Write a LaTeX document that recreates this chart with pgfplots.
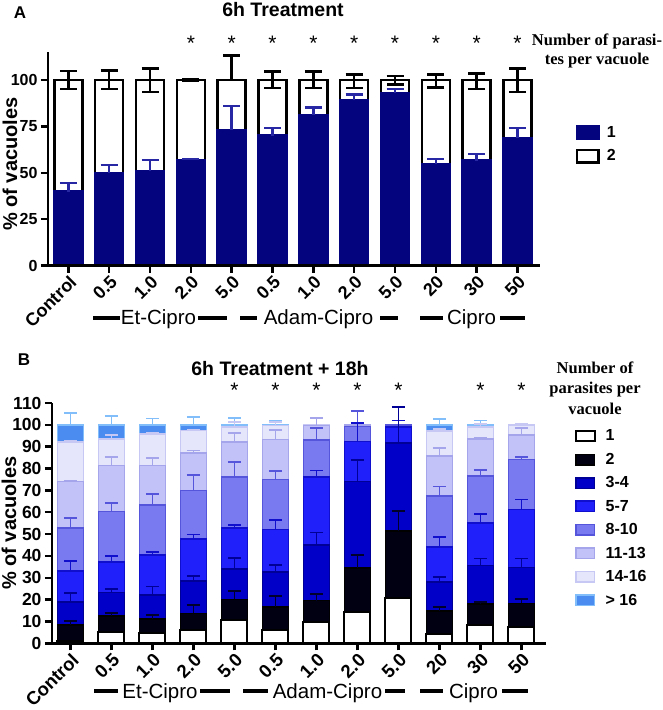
\documentclass[border=0pt]{standalone}
\usepackage{pgfplots}
\pgfplotsset{compat=1.18}
\usepackage{fontspec}
\setmainfont{Liberation Sans}
\newfontfamily\tnr{Liberation Serif}

\definecolor{navyA}{RGB}{4,4,126}
\definecolor{navyErr}{RGB}{40,40,165}
\definecolor{cTwo}{RGB}{0,0,18}
\definecolor{cTwoE}{RGB}{0,0,45}
\definecolor{cThree}{RGB}{0,0,200}
\definecolor{cThreeD}{RGB}{0,0,150}
\definecolor{cFive}{RGB}{32,32,250}
\definecolor{cFiveD}{RGB}{15,15,205}
\definecolor{cEight}{RGB}{122,122,240}
\definecolor{cEightD}{RGB}{85,85,220}
\definecolor{cEleven}{RGB}{194,194,248}
\definecolor{cElevenD}{RGB}{165,165,235}
\definecolor{cFourteen}{RGB}{229,229,251}
\definecolor{cFourteenD}{RGB}{200,200,245}
\definecolor{cSixteen}{RGB}{75,140,240}
\definecolor{cSixteenD}{RGB}{130,190,250}

\pgfplotsset{
  ov/.style={bar shift=0pt},
  boxlegA/.style={legend image code/.code={\draw[##1] (0pt,-6.25pt) rectangle (21.5pt,6.25pt);}},
  boxlegB/.style={legend image code/.code={\draw[##1] (0pt,-5.25pt) rectangle (18.5pt,5.25pt);}},
  errA/.style n args={2}{/pgfplots/error bars/y dir=#1, /pgfplots/error bars/y explicit,
    /pgfplots/error bars/error bar style={line width=2.5pt, #2},
    /pgfplots/error bars/error mark options={rotate=90, line width=2.5pt, mark size=8.5pt, #2}},
  errB/.style={/pgfplots/error bars/y dir=plus, /pgfplots/error bars/y explicit,
    /pgfplots/error bars/error bar style={line width=1.8pt, #1},
    /pgfplots/error bars/error mark options={rotate=90, line width=1.8pt, mark size=6.5pt, #1}},
  segB/.style n args={2}{fill=#1, draw=#2, line width=1.5pt, ov, boxlegB},
}

\begin{document}
\begin{tikzpicture}
\useasboundingbox (0pt,0pt) rectangle (662pt,710pt);

%% Panel A
\begin{axis}[
  at={(48pt,444.3pt)}, anchor=south west, scale only axis,
  width=492pt, height=213.7pt,
  xmin=-0.5, xmax=11.55, ymin=0, ymax=115,
  axis x line*=bottom, axis y line*=left,
  axis line style={line width=2.5pt},
  axis on top, clip=false,
  ybar, bar width=28pt,
  xtick={0,...,11},
  xticklabels={\mbox{Control},\mbox{0.5},\mbox{1.0},\mbox{2.0},\mbox{5.0},\mbox{0.5},\mbox{1.0},\mbox{2.0},\mbox{5.0},\mbox{20},\mbox{30},\mbox{50}},
  ytick={0,25,50,75,100},
  yticklabels={\mbox{0},\mbox{25},\mbox{50},\mbox{75},\mbox{100}},
  tick style={line width=2.5pt, black}, major tick length=7pt, tick align=outside,
  yticklabel style={font=\bfseries\fontsize{16}{19}\selectfont},
  xticklabel style={font=\bfseries\fontsize{18}{21}\selectfont, rotate=45, anchor=north east, inner sep=1pt},
  ylabel={\% of vacuoles},
  every axis y label/.style={at={(axis description cs:-0.0772,0.475)}, rotate=90, anchor=center,
    font=\bfseries\fontsize{20}{24}\selectfont},
  legend style={at={(axis description cs:1.073,0.658)}, anchor=north west, draw=none, fill=none,
    inner sep=0pt, outer sep=0pt, row sep=8.5pt, font=\bfseries\fontsize{16}{19}\selectfont,
    nodes={inner sep=0pt}, /tikz/every odd column/.append style={column sep=7pt}},
  legend cell align=left, reverse legend,
]
%% 2 parasites (stacked up to 100)
\addplot[fill=white, draw=black, line width=2.5pt, ov, boxlegA, errA={both}{black}] coordinates {
  (0,100) += (0,4.8) -= (0,5)
  (1,100) += (0,5) -= (0,5)
  (2,100) += (0,6) -= (0,6.5)
  (3,100) += (0,0.5) -= (0,0.5)
  (4,100) += (0,13) -= (0,0)
  (5,100) += (0,4.5) -= (0,4.5)
  (6,100) += (0,4.5) -= (0,4.5)
  (7,100) += (0,3) -= (0,4.5)
  (8,100) += (0,2) -= (0,2.5)
  (9,100) += (0,3) -= (0,4)
  (10,100) += (0,3.5) -= (0,5)
  (11,100) += (0,6) -= (0,6.5)
};
%% 1 parasite
\addplot[fill=navyA, draw=navyA, line width=2.5pt, ov, boxlegA, errA={plus}{navyErr}] coordinates {
  (0,39.8) +- (0,4.8)
  (1,50) +- (0,4.3)
  (2,51) +- (0,6)
  (3,57) +- (0,0.5)
  (4,73) +- (0,13)
  (5,70) +- (0,4)
  (6,81) +- (0,4)
  (7,89) +- (0,3)
  (8,93) +- (0,2)
  (9,54.5) +- (0,3)
  (10,56.5) +- (0,3.5)
  (11,68.5) +- (0,5.5)
};
\legend{2,1}
\pgfplotsinvokeforeach{3,...,11}{
  \node[font=\fontsize{21}{24}\selectfont] at (axis cs:#1,119.5) {*};
}
\end{axis}

%% Panel B
\begin{axis}[
  at={(52pt,66.7pt)}, anchor=south west, scale only axis,
  width=494pt, height=240.3pt,
  xmin=-0.45, xmax=11.6, ymin=0, ymax=110,
  axis x line*=bottom, axis y line*=left,
  axis line style={line width=2.5pt},
  axis on top, clip=false,
  ybar, bar width=26pt,
  xtick={0,...,11},
  xticklabels={\mbox{Control},\mbox{0.5},\mbox{1.0},\mbox{2.0},\mbox{5.0},\mbox{0.5},\mbox{1.0},\mbox{2.0},\mbox{5.0},\mbox{20},\mbox{30},\mbox{50}},
  ytick={0,10,...,110},
  yticklabels={\mbox{0},\mbox{10},\mbox{20},\mbox{30},\mbox{40},\mbox{50},\mbox{60},\mbox{70},\mbox{80},\mbox{90},\mbox{100},\mbox{110}},
  tick style={line width=2.5pt, black}, major tick length=7pt, tick align=outside,
  yticklabel style={font=\bfseries\fontsize{17.5}{20}\selectfont},
  xticklabel style={font=\bfseries\fontsize{18.5}{21}\selectfont, rotate=45, anchor=north east, inner sep=1pt},
  ylabel={\% of vacuoles},
  every axis y label/.style={at={(axis description cs:-0.087,0.5)}, rotate=90, anchor=center,
    font=\bfseries\fontsize{20}{24}\selectfont},
  legend style={at={(axis description cs:1.059,0.888)}, anchor=north west, draw=none, fill=none,
    inner sep=0pt, outer sep=0pt, row sep=10.8pt, font=\bfseries\fontsize{16}{19}\selectfont,
    nodes={inner sep=0pt}, /tikz/every odd column/.append style={column sep=10pt}},
  legend cell align=left, reverse legend,
]
%% bars drawn as cumulative tops, highest class first
\addplot[segB={cSixteen}{cSixteenD}, errB={cSixteenD}] coordinates {
  (0,100) +- (0,5.5) (1,100) +- (0,4) (2,100) +- (0,2.9) (3,100) +- (0,3.5)
  (4,100) +- (0,3) (5,100) +- (0,1.7) (6,100) +- (0,0) (7,100) +- (0,0)
  (8,100) +- (0,0) (9,100) +- (0,2.7) (10,100) +- (0,2) (11,100) +- (0,0)
};
\addplot[segB={cFourteen}{cFourteenD}, errB={cFourteenD}] coordinates {
  (0,92.1) +- (0,0.5) (1,93.5) +- (0,1.9) (2,95.9) +- (0,0.3) (3,97.4) +- (0,0.3)
  (4,98.9) +- (0,2.3) (5,99.7) +- (0,1.5) (6,100) +- (0,0) (7,100) +- (0,0)
  (8,100) +- (0,0) (9,97.1) +- (0,1) (10,98.9) +- (0,1.6) (11,100) +- (0,0.3)
};
\addplot[segB={cEleven}{cElevenD}, errB={cElevenD}] coordinates {
  (0,74.1) +- (0,0.4) (1,81.3) +- (0,4.1) (2,81.3) +- (0,3.5) (3,87.1) +- (0,1.2)
  (4,92.1) +- (0,4.2) (5,93.2) +- (0,4.4) (6,99.7) +- (0,3.3) (7,100) +- (0,0)
  (8,100) +- (0,0) (9,85.8) +- (0,3.5) (10,93.5) +- (0,0.3) (11,95.3) +- (0,3.3)
};
\addplot[segB={cEight}{cEightD}, errB={cEightD}] coordinates {
  (0,52.7) +- (0,4.5) (1,60.3) +- (0,3.9) (2,63.3) +- (0,4.9) (3,69.9) +- (0,7)
  (4,76.1) +- (0,6.9) (5,75) +- (0,4) (6,93) +- (0,5.6) (7,99.2) +- (0,7.3)
  (8,100) +- (0,0) (9,67.4) +- (0,4.4) (10,76.6) +- (0,2.9) (11,84.2) +- (0,1.2)
};
\addplot[segB={cFive}{cFiveD}, errB={cFiveD}] coordinates {
  (0,33.2) +- (0,4.5) (1,37.3) +- (0,2.6) (2,40.5) +- (0,1.2) (3,47.8) +- (0,2)
  (4,52.7) +- (0,1.5) (5,52.1) +- (0,4.2) (6,76.1) +- (0,3) (7,92.4) +- (0,8.5)
  (8,98.9) +- (0,3.1) (9,44.1) +- (0,4.6) (10,55.1) +- (0,4.1) (11,61.3) +- (0,4.5)
};
\addplot[segB={cThree}{cThreeD}, errB={cThreeD}] coordinates {
  (0,18.9) +- (0,4.1) (1,23.3) +- (0,1.7) (2,22.2) +- (0,3.8) (3,28.6) +- (0,2.1)
  (4,34.1) +- (0,4.9) (5,32.6) +- (0,3.3) (6,45) +- (0,5.7) (7,74.1) +- (0,9.9)
  (8,91.6) +- (0,16.4) (9,28) +- (0,2.3) (10,35.6) +- (0,3.2) (11,34.6) +- (0,4.2)
};
\addplot[segB={cTwo}{black}, errB={cTwoE}] coordinates {
  (0,8.4) +- (0,1.8) (1,12.5) +- (0,1.4) (2,11.1) +- (0,1.8) (3,13.7) +- (0,3.8)
  (4,20.1) +- (0,3.9) (5,16.6) +- (0,5) (6,19.5) +- (0,2.9) (7,34.4) +- (0,6.1)
  (8,51.4) +- (0,9) (9,14.8) +- (0,1.8) (10,18) +- (0,1) (11,18.3) +- (0,2.1)
};
\addplot[segB={white}{black}, line width=2pt] coordinates {
  (0,1) (1,5) (2,4.6) (3,6.1) (4,10.8) (5,5.9) (6,9.6) (7,14.2)
  (8,20.7) (9,4.4) (10,8.4) (11,7.3)
};
\legend{> 16,14-16,11-13,8-10,5-7,3-4,2,1}
\pgfplotsinvokeforeach{4,5,6,7,8,10,11}{
  \node[font=\fontsize{21}{24}\selectfont] at (axis cs:#1,115.9) {*};
}
\end{axis}

%% panel letters and titles
\node[font=\bfseries\fontsize{17}{20}\selectfont] at (20pt,697pt) {A};
\node[font=\bfseries\fontsize{17}{20}\selectfont] at (24pt,350pt) {B};
\node[font=\bfseries\fontsize{19.5}{23}\selectfont] at (283pt,700pt) {6h Treatment};
\node[font=\bfseries\fontsize{19.5}{23}\selectfont] at (280pt,341pt) {6h Treatment + 18h};

%% legend headings
\node[font=\tnr\bfseries\fontsize{16.5}{19.5}\selectfont, align=center] at (597pt,659pt)
  {Number of parasi-\\tes per vacuole};
\node[font=\tnr\bfseries\fontsize{16.5}{20.5}\selectfont, align=center] at (595pt,322pt)
  {Number of\\parasites per\\vacuole};

%% group labels
\begin{scope}[line width=3.5pt]
  \draw (93pt,392pt) -- (120pt,392pt);  \draw (198pt,392pt) -- (227pt,392pt);
  \draw (240pt,392pt) -- (257pt,392pt); \draw (380pt,392pt) -- (398pt,392pt);
  \draw (420pt,392pt) -- (443pt,392pt); \draw (500pt,392pt) -- (525pt,392pt);
  \draw (94pt,19pt) -- (118pt,19pt);    \draw (200pt,19pt) -- (230pt,19pt);
  \draw (243pt,19pt) -- (268pt,19pt);   \draw (385pt,19pt) -- (405pt,19pt);
  \draw (420pt,19pt) -- (443pt,19pt);   \draw (502pt,19pt) -- (528pt,19pt);
\end{scope}
\begin{scope}[every node/.style={anchor=base, font=\fontsize{20.5}{24}\selectfont}]
  \node at (158.5pt,385pt) {Et-Cipro};
  \node at (318.5pt,385pt) {Adam-Cipro};
  \node at (471.5pt,385pt) {Cipro};
  \node at (160pt,12pt) {Et-Cipro};
  \node at (327.5pt,12pt) {Adam-Cipro};
  \node at (473.5pt,12pt) {Cipro};
\end{scope}
\end{tikzpicture}
\end{document}
